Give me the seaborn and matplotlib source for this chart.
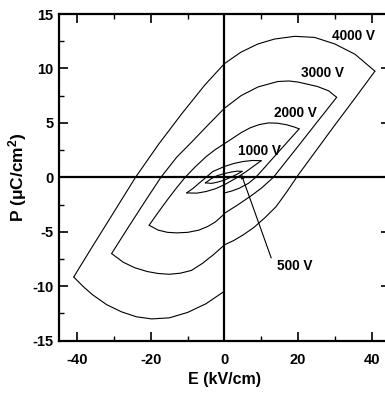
import matplotlib
matplotlib.use("Agg")
import numpy as np
import pandas as pd
import seaborn as sns
import matplotlib.pyplot as plt
from matplotlib.ticker import MultipleLocator

# ---------------- data ----------------
# 4000 V
u4000_E = [-41.0, -36.0, -30.0, -24.2, -18.0, -11.6, -5.3, 0.0, 4.5, 9.1, 13.6, 19.1, 24.5, 30.0, 35.5, 40.9]
u4000_P = [-9.15, -6.4, -3.15, 0.0, 3.0, 5.85, 8.5, 10.45, 11.5, 12.25, 12.7, 12.95, 12.85, 12.25, 11.3, 9.75]
l4000_E = [-41.0, -38.5, -36.0, -32.0, -28.0, -24.0, -19.8, -15.0, -10.0, -5.0, 0.0]
l4000_P = [-9.15, -10.0, -10.75, -11.7, -12.35, -12.8, -13.0, -12.9, -12.4, -11.6, -10.45]
r4000_E = [40.9, 35.0, 30.0, 25.0, 20.0, 17.0, 14.0, 11.0, 8.0, 5.0, 2.5, 0.0]
r4000_P = [9.75, 7.05, 4.8, 2.5, 0.2, -1.3, -2.7, -3.7, -4.6, -5.3, -5.8, -6.2]
# 3000 V
u3000_E = [-30.7, -26.0, -21.5, -17.3, -13.0, -8.9, -4.5, 0.0, 4.5, 9.1, 14.5, 17.5, 20.0, 25.2, 28.3, 30.5]
u3000_P = [-7.0, -4.5, -2.15, 0.0, 1.85, 3.25, 4.8, 6.35, 7.5, 8.3, 8.8, 8.85, 8.75, 8.35, 7.95, 7.35]
l3000_E = [-30.7, -27.5, -24.4, -21.0, -18.0, -15.0, -12.0, -9.0, -6.0, -3.0, 0.0]
l3000_P = [-7.0, -7.8, -8.3, -8.65, -8.83, -8.9, -8.8, -8.55, -7.9, -7.1, -6.2]
r3000_E = [30.5, 25.0, 20.0, 16.0, 13.3, 10.0, 7.0, 3.5, 0.0]
r3000_P = [7.35, 5.0, 2.85, 1.15, 0.0, -1.0, -1.75, -2.55, -3.3]
# 2000 V
u2000_E = [-20.5, -18.0, -15.5, -13.0, -10.7, -8.0, -5.0, -2.5, 0.0, 2.5, 4.5, 7.0, 9.5, 12.0, 14.5, 17.0, 19.0, 20.3]
u2000_P = [-4.4, -3.2, -2.05, -0.95, 0.0, 0.95, 1.9, 2.55, 3.1, 3.65, 4.1, 4.55, 4.85, 5.0, 4.97, 4.82, 4.62, 4.45]
l2000_E = [-20.5, -18.0, -15.5, -13.0, -10.0, -7.0, -4.5, -2.5, 0.0]
l2000_P = [-4.4, -4.85, -5.05, -5.1, -5.05, -4.85, -4.5, -4.1, -3.35]
r2000_E = [20.3, 16.5, 13.0, 10.5, 8.5, 6.5, 4.0, 2.0, 0.0]
r2000_P = [4.45, 3.02, 1.7, 0.75, 0.0, -0.55, -1.0, -1.25, -1.43]
# 1000 V
u1000_E = [-10.3, -8.5, -6.8, -5.0, -3.2, 0.0, 2.5, 5.0, 7.5, 10.0]
u1000_P = [-1.43, -1.0, -0.5, 0.0, 0.53, 1.0, 1.27, 1.45, 1.55, 1.53]
l1000_E = [10.0, 8.0, 5.9, 3.0, 0.0, -2.5, -5.0, -7.5, -10.3]
l1000_P = [1.53, 1.05, 0.53, -0.1, -0.67, -1.05, -1.3, -1.45, -1.43]
# 500 V
u500_E = [-5.2, -3.5, -2.0, 0.0, 2.0, 3.5, 4.8]
u500_P = [-0.51, -0.1, 0.15, 0.35, 0.5, 0.57, 0.55]
l500_E = [4.8, 3.5, 2.0, 0.0, -2.0, -3.5, -5.2]
l500_P = [0.55, 0.3, 0.05, -0.25, -0.45, -0.55, -0.51]

voltage_labels = ["4000 V", "3000 V", "2000 V", "1000 V", "500 V"]
label_E = [35.0, 26.7, 19.3, 9.5]
label_P = [13.0, 9.6, 5.95, 2.4]
x_ticks = [-40, -20, 0, 20, 40]
y_ticks = [-15, -10, -5, 0, 5, 10, 15]

curves = {
    "u4000": (u4000_E, u4000_P), "l4000": (l4000_E, l4000_P), "r4000": (r4000_E, r4000_P),
    "u3000": (u3000_E, u3000_P), "l3000": (l3000_E, l3000_P), "r3000": (r3000_E, r3000_P),
    "u2000": (u2000_E, u2000_P), "l2000": (l2000_E, l2000_P), "r2000": (r2000_E, r2000_P),
    "u1000": (u1000_E, u1000_P), "l1000": (l1000_E, l1000_P),
    "u500": (u500_E, u500_P), "l500": (l500_E, l500_P),
}
frames = []
for name, (e, p) in curves.items():
    frames.append(pd.DataFrame({"E": e, "P": p, "curve": name}))
df = pd.concat(frames, ignore_index=True)

# ---------------- style ----------------
sns.set_style("ticks")
plt.rcParams["font.family"] = ["Liberation Sans", "DejaVu Sans"]
plt.rcParams["axes.unicode_minus"] = False
plt.rcParams["font.weight"] = "bold"
plt.rcParams["text.color"] = "black"
plt.rcParams["axes.labelcolor"] = "black"
plt.rcParams["xtick.color"] = "black"
plt.rcParams["ytick.color"] = "black"
plt.rcParams["axes.edgecolor"] = "black"
plt.rcParams["mathtext.fontset"] = "custom"
plt.rcParams["mathtext.rm"] = "Liberation Sans:bold"
plt.rcParams["mathtext.bf"] = "Liberation Sans:bold"
plt.rcParams["mathtext.default"] = "bf"

fig = plt.figure(figsize=(3.85, 3.94), dpi=100)
ax = fig.add_axes([59 / 385, 1 - 340.7 / 394, (390 - 59) / 385, (340.7 - 14) / 394])

sns.lineplot(data=df, x="E", y="P", units="curve", estimator=None, sort=False,
             color="black", linewidth=0.8, ax=ax)

ax.axhline(0, color="black", linewidth=1.6, zorder=1)
ax.axvline(0, color="black", linewidth=1.6, zorder=1)

ax.set_xlim(-45, 45)
ax.set_ylim(-15, 15)
ax.set_xticks(x_ticks)
ax.set_yticks(y_ticks)
ax.xaxis.set_minor_locator(MultipleLocator(10))
ax.yaxis.set_minor_locator(MultipleLocator(2.5))
ax.tick_params(which="both", direction="in", top=True, right=True,
               color="black", labelcolor="black")
ax.tick_params(which="major", length=6.5, width=1.2, labelsize=10.5, pad=4)
ax.tick_params(axis="x", which="major", pad=8.5)
ax.tick_params(which="minor", length=3.5, width=1.0)
for lab in ax.get_xticklabels() + ax.get_yticklabels():
    lab.set_fontweight("bold")
for sp in ax.spines.values():
    sp.set_linewidth(1.6)
    sp.set_color("black")

ax.set_xlabel("E (kV/cm)", fontsize=11.5, fontweight="bold", labelpad=4, color="black")
ax.set_ylabel("P (\u03bcC/cm$^{2}$)", fontsize=12.5, fontweight="bold", labelpad=2, color="black")

for t, e, p in zip(voltage_labels[:4], label_E, label_P):
    ax.text(e, p, t, ha="center", va="center", fontsize=9.8, fontweight="bold", color="black")

ax.annotate("", xy=(4.6, 0.25), xytext=(12.7, -7.4),
            arrowprops=dict(arrowstyle="-|>", lw=0.8, color="black",
                            mutation_scale=5, shrinkA=0, shrinkB=0))
ax.text(14.3, -8.1, voltage_labels[4], ha="left", va="center", fontsize=9.8,
        fontweight="bold", color="black")

fig.savefig("out.png", dpi=100)
